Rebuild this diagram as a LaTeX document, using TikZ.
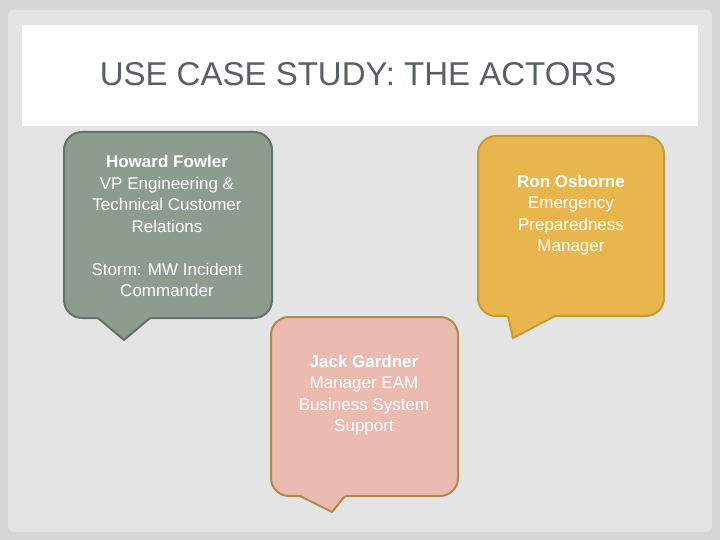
\documentclass[tikz,border=0pt]{standalone}
\usepackage{fontspec}
\setmainfont{Liberation Sans}
\definecolor{bgc}{HTML}{D6D6D6}
\definecolor{panel}{HTML}{E4E4E4}
\definecolor{grayf}{HTML}{8E9C90}
\definecolor{grayd}{HTML}{66716A}
\definecolor{orf}{HTML}{E8B64C}
\definecolor{ord}{HTML}{C49A3C}
\definecolor{pkf}{HTML}{EBBAB1}
\definecolor{pkd}{HTML}{AE8A4C}
\definecolor{titc}{HTML}{5A5F66}
\begin{document}
\begin{tikzpicture}[x=1pt,y=-1pt,
  bub/.style={line width=2pt,rounded corners=18pt},
  tail/.style={line width=2pt,line join=miter},
  txt/.style={text=white,align=center,font=\fontsize{17}{21.5}\selectfont}]
\fill[bgc] (0,0) rectangle (720,540);
\fill[panel,rounded corners=6pt] (8,10) rectangle (712,532);
\fill[white] (22,25) rectangle (698,126);
\node[text=titc,font=\fontsize{33}{36}\selectfont,anchor=center] (title) at (358,74) {USE CASE STUDY: THE ACTORS};
% gray bubble
\draw[bub,fill=grayf,draw=grayd] (64,132) rectangle (272,318);
\fill[grayf] (97,316) -- (124,340) -- (151,316) -- cycle;
\draw[tail,draw=grayd] (98,318) -- (124,340) -- (150,318);
\node[txt] (howard) at (167,226) {\textbf{Howard Fowler}\\VP Engineering \&\\Technical Customer\\Relations\\[21.5pt]Storm: MW Incident\\Commander};
% orange bubble
\draw[bub,fill=orf,draw=ord] (478,136) rectangle (664,316);
\fill[orf] (507,314) -- (513,338) -- (556,314) -- cycle;
\draw[tail,draw=ord] (508,316) -- (513,338) -- (555,316);
\node[txt] (ron) at (571,215) {\textbf{Ron Osborne}\\Emergency\\Preparedness\\Manager};
% pink bubble
\draw[bub,fill=pkf,draw=pkd] (271,317) rectangle (458,496);
\fill[pkf] (299,494) -- (332,512) -- (346,494) -- cycle;
\draw[tail,draw=pkd] (300,496) -- (332,512) -- (345,496);
\node[txt] (jack) at (364,395) {\textbf{Jack Gardner}\\Manager EAM\\Business System\\Support};
\end{tikzpicture}
\end{document}
